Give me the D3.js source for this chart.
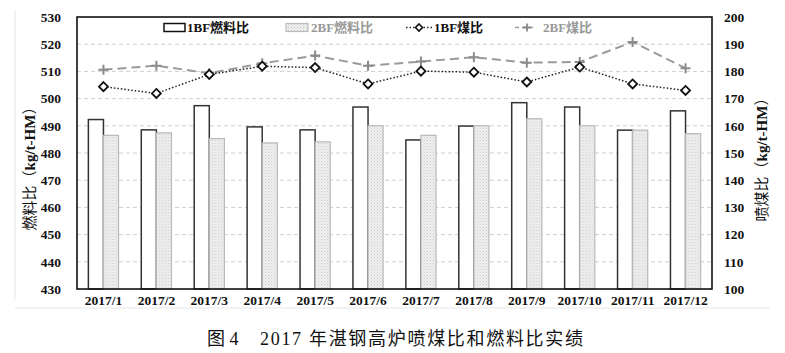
<!DOCTYPE html>
<html>
<head>
<meta charset="utf-8">
<script src="https://cdn.jsdelivr.net/npm/d3@7"></script>
<style>
  body { margin: 0; background: #fff; }
  svg text { font-family: "Liberation Serif", "Times New Roman", "Noto Sans CJK SC", serif; }
</style>
</head>
<body>
<svg id="chart" width="785" height="353"></svg>
<script>
const months = ["2017/1", "2017/2", "2017/3", "2017/4", "2017/5", "2017/6",
  "2017/7", "2017/8", "2017/9", "2017/10", "2017/11", "2017/12"];
const fuel1 = [492.3, 488.5, 497.4, 489.6, 488.5, 496.9, 484.8, 489.9, 498.5, 496.9, 488.4, 495.5];
const fuel2 = [486.5, 487.4, 485.3, 483.7, 484.1, 490.0, 486.5, 490.0, 492.6, 490.0, 488.4, 487.1];
const coal1 = [174.4, 171.9, 178.9, 181.9, 181.4, 175.4, 180.1, 179.7, 176.1, 181.6, 175.4, 173.0];
const coal2 = [180.6, 182.1, 179.3, 183.0, 185.8, 182.1, 183.6, 185.2, 183.2, 183.5, 190.8, 181.2];
const leftTicks = d3.range(430, 531, 10);
const rightTicks = d3.range(100, 201, 10);

const svg = d3.select("#chart");
const width = 785, height = 353;
const margin = { top: 17, right: 73, bottom: 64, left: 77 };
const plotW = width - margin.left - margin.right;
const plotH = height - margin.top - margin.bottom;

const defs = svg.append("defs");
const pat = defs.append("pattern")
  .attr("id", "dots")
  .attr("width", 3).attr("height", 3)
  .attr("patternUnits", "userSpaceOnUse");
pat.append("rect").attr("width", 3).attr("height", 3).attr("fill", "#f0f0f0");
pat.append("rect").attr("x", 0).attr("y", 0).attr("width", 1).attr("height", 1).attr("fill", "#c8c8c8");
pat.append("rect").attr("x", 1.5).attr("y", 1.5).attr("width", 1).attr("height", 1).attr("fill", "#d4d4d4");

// faint page borders like the scan
svg.append("line").attr("x1", 15).attr("x2", 15).attr("y1", 10).attr("y2", 300)
  .attr("stroke", "#e6e6e6");
svg.append("line").attr("x1", 15).attr("x2", 770).attr("y1", 308).attr("y2", 308)
  .attr("stroke", "#e6e6e6");

const g = svg.append("g").attr("transform", `translate(${margin.left},${margin.top})`);

const x = d3.scaleBand().domain(months).range([0, plotW]).paddingInner(0.43).paddingOuter(0.215);
const xPoint = (d) => x(d) + x.bandwidth() / 2;
const xs = d3.scaleBand().domain(["1", "2"]).range([0, x.bandwidth()]);
const yL = d3.scaleLinear().domain([430, 530]).range([plotH, 0]);
const yR = d3.scaleLinear().domain([100, 200]).range([plotH, 0]);

// gridlines
g.append("g")
  .selectAll("line")
  .data(leftTicks.filter((t) => t > 430 && t < 530))
  .join("line")
  .attr("x1", 0).attr("x2", plotW)
  .attr("y1", (d) => yL(d)).attr("y2", (d) => yL(d))
  .attr("stroke", "#cfcfcf")
  .attr("stroke-dasharray", "4,3");

// bars
const barData = months.map((m, i) => ({ m, a: fuel1[i], b: fuel2[i] }));
const grp = g.append("g").selectAll("g").data(barData).join("g")
  .attr("transform", (d) => `translate(${x(d.m)},0)`);
grp.append("rect")
  .attr("x", xs("1")).attr("width", xs.bandwidth())
  .attr("y", (d) => yL(d.a)).attr("height", (d) => plotH - yL(d.a))
  .attr("fill", "#fff").attr("stroke", "#333").attr("stroke-width", 1.5);
grp.append("rect")
  .attr("x", xs("2")).attr("width", xs.bandwidth())
  .attr("y", (d) => yL(d.b)).attr("height", (d) => plotH - yL(d.b))
  .attr("fill", "url(#dots)").attr("stroke", "#b8b8b8").attr("stroke-width", 1.2);

// lines
const line = d3.line().x((d) => xPoint(d[0])).y((d) => yR(d[1]));
const s1 = months.map((m, i) => [m, coal1[i]]);
const s2 = months.map((m, i) => [m, coal2[i]]);

g.append("path").attr("d", line(s2))
  .attr("fill", "none").attr("stroke", "#9a9a9a").attr("stroke-width", 2)
  .attr("stroke-dasharray", "9,5");
g.append("path").attr("d", line(s1))
  .attr("fill", "none").attr("stroke", "#222").attr("stroke-width", 1.5)
  .attr("stroke-dasharray", "1.5,2");

const plusPath = "M-5,0H5M0,-5V5";
g.append("g").selectAll("path").data(s2).join("path")
  .attr("transform", (d) => `translate(${xPoint(d[0])},${yR(d[1])})`)
  .attr("d", plusPath)
  .attr("stroke", "#8a8a8a").attr("stroke-width", 2).attr("fill", "none");
g.append("g").selectAll("path").data(s1).join("path")
  .attr("transform", (d) => `translate(${xPoint(d[0])},${yR(d[1])})`)
  .attr("d", "M0,-4.5L4.5,0L0,4.5L-4.5,0Z")
  .attr("fill", "#fff").attr("stroke", "#111").attr("stroke-width", 1.8);

// frame
g.append("rect").attr("width", plotW).attr("height", plotH)
  .attr("fill", "none").attr("stroke", "#111").attr("stroke-width", 1.6);

// axes
const axL = g.append("g").call(d3.axisLeft(yL).tickValues(leftTicks).tickSize(0).tickPadding(16));
axL.select(".domain").remove();
axL.selectAll("text").attr("font-size", 13.5).attr("font-weight", "bold").attr("fill", "#111")
  .style("font-family", "Liberation Serif, serif");

const axR = g.append("g").attr("transform", `translate(${plotW},0)`)
  .call(d3.axisRight(yR).tickValues(rightTicks).tickSize(0).tickPadding(12));
axR.select(".domain").remove();
axR.selectAll("text").attr("font-size", 13.5).attr("font-weight", "bold").attr("fill", "#111")
  .style("font-family", "Liberation Serif, serif");

const axB = g.append("g").attr("transform", `translate(0,${plotH})`)
  .call(d3.axisBottom(x).tickSize(0).tickPadding(6));
axB.select(".domain").remove();
axB.selectAll("text").attr("font-size", 13.5).attr("font-weight", "bold").attr("fill", "#111")
  .style("font-family", "Liberation Serif, serif");

// axis titles
svg.append("text")
  .attr("transform", "translate(35,165) rotate(-90)")
  .attr("text-anchor", "middle")
  .attr("font-size", 15).attr("fill", "#111")
  .html('燃料比（<tspan font-weight="bold">kg/t-HM</tspan>）');
svg.append("text")
  .attr("transform", "translate(767,156) rotate(-90)")
  .attr("text-anchor", "middle")
  .attr("font-size", 15).attr("fill", "#111")
  .html('喷煤比（<tspan font-weight="bold">kg/t-HM</tspan>）');

// legend
const lg = svg.append("g").attr("font-size", 13).attr("font-weight", "bold");
lg.append("rect").attr("x", 164).attr("y", 23.5).attr("width", 21).attr("height", 8)
  .attr("fill", "#fff").attr("stroke", "#111").attr("stroke-width", 1.5);
lg.append("text").attr("x", 187).attr("y", 32).attr("fill", "#111").text("1BF燃料比");
lg.append("rect").attr("x", 286).attr("y", 23.5).attr("width", 22).attr("height", 8)
  .attr("fill", "url(#dots)").attr("stroke", "#bbb").attr("stroke-width", 1.2);
lg.append("text").attr("x", 311).attr("y", 32).attr("fill", "#999").text("2BF燃料比");
lg.append("line").attr("x1", 406).attr("x2", 432).attr("y1", 27.5).attr("y2", 27.5)
  .attr("stroke", "#222").attr("stroke-width", 1.5).attr("stroke-dasharray", "1.5,2");
lg.append("path").attr("transform", "translate(419,27.5)").attr("d", "M0,-3.5L3.5,0L0,3.5L-3.5,0Z")
  .attr("fill", "#fff").attr("stroke", "#111").attr("stroke-width", 1.6);
lg.append("text").attr("x", 434).attr("y", 32).attr("fill", "#111").text("1BF煤比");
lg.append("line").attr("x1", 515).attr("x2", 533).attr("y1", 27.5).attr("y2", 27.5)
  .attr("stroke", "#9a9a9a").attr("stroke-width", 1.5).attr("stroke-dasharray", "4,3");
lg.append("path").attr("transform", "translate(527,27.5)").attr("d", "M-4,0H4M0,-4V4")
  .attr("stroke", "#8a8a8a").attr("stroke-width", 1.8);
lg.append("text").attr("x", 543).attr("y", 32).attr("fill", "#999").text("2BF煤比");

// caption
const cap = svg.append("g").attr("font-size", 18).attr("fill", "#111");
cap.append("text").attr("x", 207).attr("y", 345).text("图 4");
cap.append("text").attr("x", 260).attr("y", 345)
  .attr("textLength", 323).attr("lengthAdjust", "spacing")
  .text("2017 年湛钢高炉喷煤比和燃料比实绩");
</script>
</body>
</html>
